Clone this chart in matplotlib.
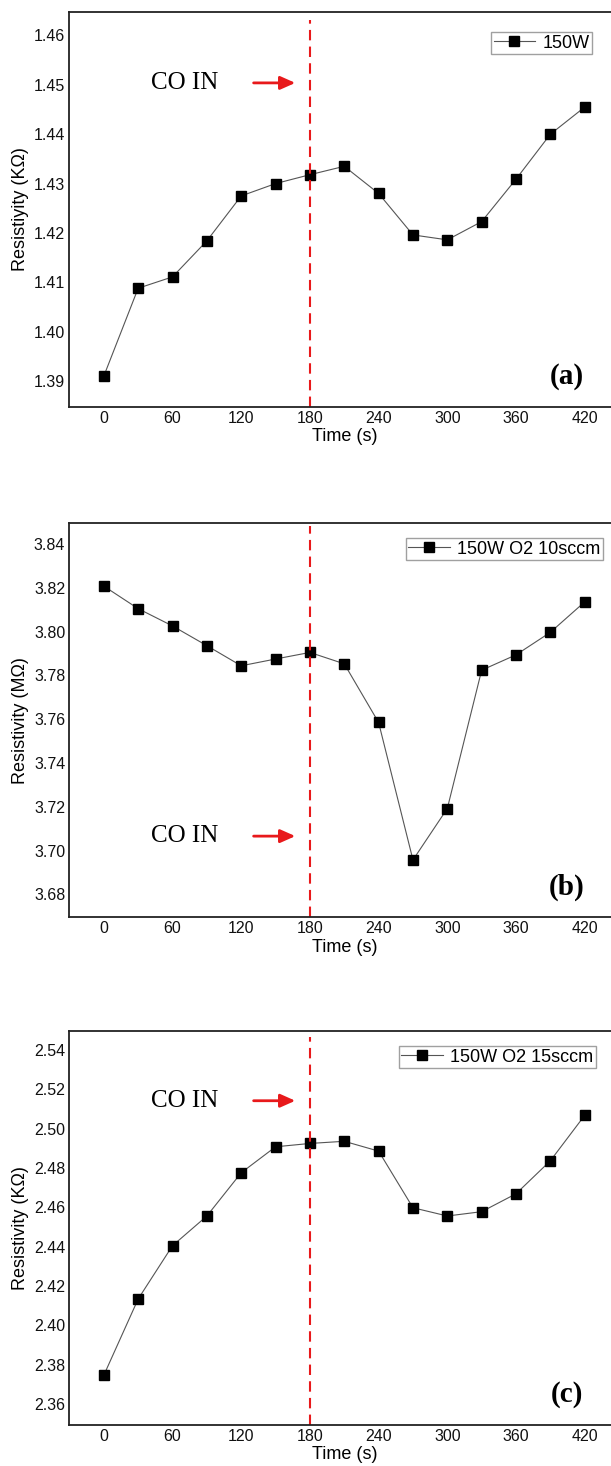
import matplotlib
matplotlib.use("Agg")
import matplotlib.pyplot as plt

plt.rcParams["font.family"] = ["Liberation Sans", "DejaVu Sans"]

time_s = [0, 30, 60, 90, 120, 150, 180, 210, 240, 270, 300, 330, 360, 390, 420]
xticks = [0, 60, 120, 180, 240, 300, 360, 420]

res_a = [1.3910, 1.4088, 1.4111, 1.4184, 1.4275, 1.4300, 1.4318, 1.4335,
         1.4280, 1.4196, 1.4186, 1.4223, 1.4309, 1.4400, 1.4455]
res_b = [3.8208, 3.8105, 3.8026, 3.7936, 3.7844, 3.7875, 3.7905, 3.7853,
         3.7585, 3.6957, 3.7192, 3.7824, 3.7894, 3.7997, 3.8136]
res_c = [2.3746, 2.4134, 2.4405, 2.4556, 2.4776, 2.4908, 2.4925, 2.4936,
         2.4886, 2.4598, 2.4556, 2.4578, 2.4669, 2.4837, 2.5068]

yticks_a = [1.39, 1.40, 1.41, 1.42, 1.43, 1.44, 1.45, 1.46]
yticks_b = [3.68, 3.70, 3.72, 3.74, 3.76, 3.78, 3.80, 3.82, 3.84]
yticks_c = [2.36, 2.38, 2.40, 2.42, 2.44, 2.46, 2.48, 2.50, 2.52, 2.54]

panels = [
    # data, yticks, ylim, ylabel, legend, tag, axes rect, CO IN y, legend anchor, vline top
    (res_a, yticks_a, (1.3848, 1.4647), "Resistiyity (K\u03a9)", "150W", "(a)",
     [0.1137, 0.72258, 0.8995, 0.26903], 0.821, (0.951, 0.950), 0.98),
    (res_b, yticks_b, (3.6695, 3.8495), "Resistivity (M\u03a9)", "150W O2 10sccm", "(b)",
     [0.1137, 0.37429, 0.8995, 0.26875], 0.206, (0.971, 0.963), 0.994),
    (res_c, yticks_c, (2.3493, 2.5497), "Resistivity (K\u03a9)", "150W O2 15sccm", "(c)",
     [0.1137, 0.02797, 0.8995, 0.26876], 0.823, (0.958, 0.962), 0.985),
]

fig = plt.figure(figsize=(6.11, 14.66), dpi=100)

for data, yt, ylim, ylab, leg, tag, rect, co_y, leg_xy, vtop in panels:
    ax = fig.add_axes(rect)
    ax.plot(time_s, data, color="#555555", lw=0.8, marker="s", ms=6.5,
            mfc="black", mec="black", label=leg)
    ax.axvline(180, ymin=0, ymax=vtop, color="#e8191b", lw=1.5,
               linestyle=(0, (5, 3)))
    ax.set_xlim(-30, 450)
    ax.set_ylim(*ylim)
    ax.set_xticks(xticks)
    ax.set_yticks(yt)
    ax.set_yticklabels([f"{v:.2f}" for v in yt])
    ax.tick_params(length=0, pad=3, labelsize=11.5, colors="#111111")
    for sp in ax.spines.values():
        sp.set_linewidth(1.3)
        sp.set_color("#222222")
    ax.spines["right"].set_visible(False)

    ax.set_ylabel(ylab, fontsize=13)
    ax.yaxis.set_label_coords(-0.073, 0.5)
    ax.set_xlabel("Time (s)", fontsize=13)
    ax.xaxis.set_label_coords(0.5, -0.054)

    ax.text(0.21, co_y, "CO IN", transform=ax.transAxes, fontsize=18,
            family="Liberation Serif", ha="center", va="center")
    ax.annotate("", xy=(0.416, co_y), xytext=(0.330, co_y),
                xycoords="axes fraction",
                arrowprops=dict(arrowstyle="-|>,head_length=0.9,head_width=0.4",
                                color="#e8191b", lw=2))
    ax.text(0.905, 0.077, tag, transform=ax.transAxes, fontsize=21,
            family="Liberation Serif", fontweight="bold", ha="center", va="center")

    lg = ax.legend(loc="upper right", bbox_to_anchor=leg_xy, fontsize=13,
                   frameon=True, fancybox=False, handlelength=2.3,
                   borderpad=0.15, handletextpad=0.4, borderaxespad=0)
    lg.get_frame().set_edgecolor("#888888")
    lg.get_frame().set_linewidth(1.0)

fig.savefig("out.png", dpi=100, facecolor="white")
